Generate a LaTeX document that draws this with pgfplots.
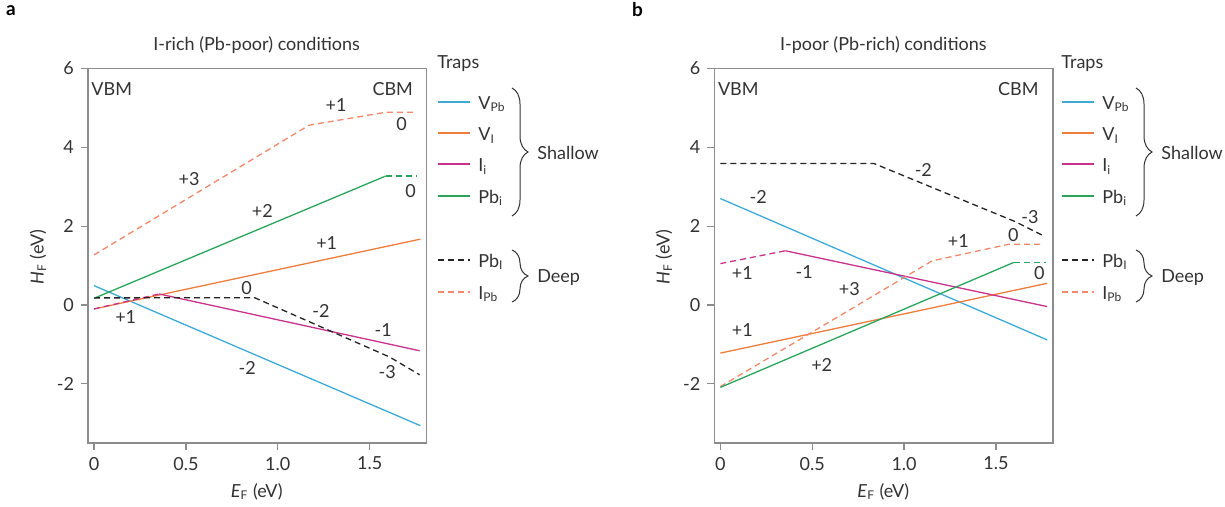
\documentclass[border=0pt]{standalone}
\usepackage{pgfplots}
\pgfplotsset{compat=1.18}
\usepackage{fontspec}
\setmainfont{Lato}
\usetikzlibrary{decorations.pathreplacing}
\definecolor{cblue}{RGB}{60,170,215}
\definecolor{corange}{RGB}{238,125,60}
\definecolor{cmag}{RGB}{200,50,140}
\definecolor{cgreen}{RGB}{40,165,90}
\definecolor{csalmon}{RGB}{242,135,105}
\definecolor{cblack}{RGB}{35,35,35}
\definecolor{axgray}{RGB}{140,140,140}
\definecolor{txt}{RGB}{50,50,50}
\pgfplotsset{myaxis/.style={
  scale only axis, width=169.3pt, height=187.3pt,
  xmin=-0.033, xmax=1.81, ymin=-3.5, ymax=6,
  xtick={0,0.5,1,1.5}, xticklabels={0,0.5,1.0,1.5},
  ytick={-2,0,2,4,6},
  tick align=outside, tick pos=left,
  axis line style={draw=axgray, line width=0.6pt},
  major tick style={draw=axgray, line width=0.6pt},
  major tick length=3.5pt,
  tick label style={font=\fontsize{9}{10}\selectfont, text=txt},
  /pgf/number format/assume math mode=true,
  clip=false, anchor=south west,
  every axis plot/.append style={line width=0.65pt},
  ds/.style={dash pattern=on 3pt off 2pt},
}}
\begin{document}
\begin{tikzpicture}
\begin{scope}[x=0.5pt,y=-0.5pt]
\path[use as bounding box] (0,0) rectangle (1225,507);
\end{scope}
% Panel a
\begin{axis}[myaxis, at={(44pt,-221.5pt)}]
\addplot[cblue] coordinates {(0,0.49) (1.776,-3.06)};
\addplot[corange] coordinates {(0,-0.1) (1.776,1.67)};
\addplot[cmag, ds] coordinates {(0,-0.1) (0.354,0.28)};
\addplot[cmag] coordinates {(0.354,0.28) (1.772,-1.16)};
\addplot[cgreen] coordinates {(0,0.17) (1.587,3.27)};
\addplot[cgreen, ds] coordinates {(1.587,3.27) (1.754,3.27)};
\addplot[cblack, ds] coordinates {(0,0.18) (0.874,0.185) (1.609,-1.32) (1.772,-1.77)};
\addplot[csalmon, ds] coordinates {(0,1.27) (1.17,4.56) (1.59,4.89) (1.754,4.89)};
\end{axis}
% Panel b
\begin{axis}[myaxis, at={(357.15pt,-221.5pt)}]
\addplot[cblack, ds] coordinates {(0,3.59) (0.835,3.59) (1.607,2.11) (1.752,1.77)};
\addplot[cblue] coordinates {(0,2.7) (1.779,-0.886)};
\addplot[corange] coordinates {(0,-1.22) (1.779,0.55)};
\addplot[cmag, ds] coordinates {(0,1.05) (0.354,1.375)};
\addplot[cmag] coordinates {(0.354,1.375) (1.779,-0.04)};
\addplot[csalmon, ds] coordinates {(0,-2.07) (1.153,1.12) (1.569,1.54) (1.761,1.54)};
\addplot[cgreen] coordinates {(0,-2.09) (1.597,1.08)};
\addplot[cgreen, ds] coordinates {(1.597,1.08) (1.77,1.08)};
\end{axis}
\begin{scope}[x=0.5pt,y=-0.5pt, every node/.style={inner sep=0pt, text=txt, font=\fontsize{9}{10}\selectfont}]
% panel letters and titles
\node[font=\fontsize{9.5}{10}\selectfont\bfseries, text=black] at (11,10.5) {a};
\node[font=\fontsize{9.5}{10}\selectfont\bfseries, text=black] at (637.5,9.5) {b};
\node at (256.7,45) {I-rich (Pb-poor) conditions};
\node at (883.3,45) {I-poor (Pb-rich) conditions};
% axis labels
\node at (256.7,491.7) {\textit{E}\textsubscript{F} (eV)};
\node at (883.3,491.7) {\textit{E}\textsubscript{F} (eV)};
\node[rotate=90] at (38,257) {\textit{H}\textsubscript{F} (eV)};
\node[rotate=90] at (664,257) {\textit{H}\textsubscript{F} (eV)};
% panel a labels
\node at (111.7,89.3) {VBM};
\node at (392.7,89.3) {CBM};
\node at (336,105) {+1};
\node at (401.7,124) {0};
\node at (189,179) {+3};
\node at (262.3,210.7) {+2};
\node at (410.7,190.7) {0};
\node at (326.7,243.3) {+1};
\node at (246.7,288.3) {0};
\node at (125.7,317.3) {+1};
\node at (321,311) {-2};
\node at (383.3,330) {-1};
\node at (247.3,368.3) {-2};
\node at (387.3,371.7) {-3};
% panel b labels
\node at (738.3,89.3) {VBM};
\node at (1018.3,89.3) {CBM};
\node at (923.3,170) {-2};
\node at (758.3,197.3) {-2};
\node at (1030,217.3) {-3};
\node at (1013.3,235) {0};
\node at (958.3,240.7) {+1};
\node at (742.3,273.3) {+1};
\node at (804.3,271.7) {-1};
\node at (849.3,289.3) {+3};
\node at (1039.3,273.3) {0};
\node at (742.3,330) {+1};
\node at (821.7,365) {+2};
% legends
\foreach \dx in {0,624} {
  \begin{scope}[xshift=\dx*0.5pt]
  \node[anchor=west] at (437,64) {Traps};
  \draw[cblue, line width=0.8pt] (438.3,102) -- (470,102);
  \draw[corange, line width=0.8pt] (438.3,133) -- (470,133);
  \draw[cmag, line width=0.8pt] (438.3,164) -- (470,164);
  \draw[cgreen, line width=0.8pt] (438.3,196) -- (470,196);
  \draw[cblack, line width=0.8pt, dash pattern=on 3pt off 2pt] (438.3,260) -- (470,260);
  \draw[csalmon, line width=0.8pt, dash pattern=on 3pt off 2pt] (438.3,292) -- (470,292);
  \node[anchor=west] at (478,104) {V\textsubscript{Pb}};
  \node[anchor=west] at (478,135.5) {V\textsubscript{I}};
  \node[anchor=west] at (478,166.5) {I\textsubscript{i}};
  \node[anchor=west] at (478,198) {Pb\textsubscript{i}};
  \node[anchor=west] at (478,262) {Pb\textsubscript{I}};
  \node[anchor=west] at (478,294) {I\textsubscript{Pb}};
  \draw[txt, line width=0.5pt, decorate, decoration={brace, amplitude=8pt}] (512,88) -- (512,216);
  \draw[txt, line width=0.5pt, decorate, decoration={brace, amplitude=8pt}] (512,250) -- (512,302);
  \node[anchor=west] at (537,153) {Shallow};
  \node[anchor=west] at (537,278) {Deep};
  \end{scope}
}
\end{scope}
\end{tikzpicture}
\end{document}
